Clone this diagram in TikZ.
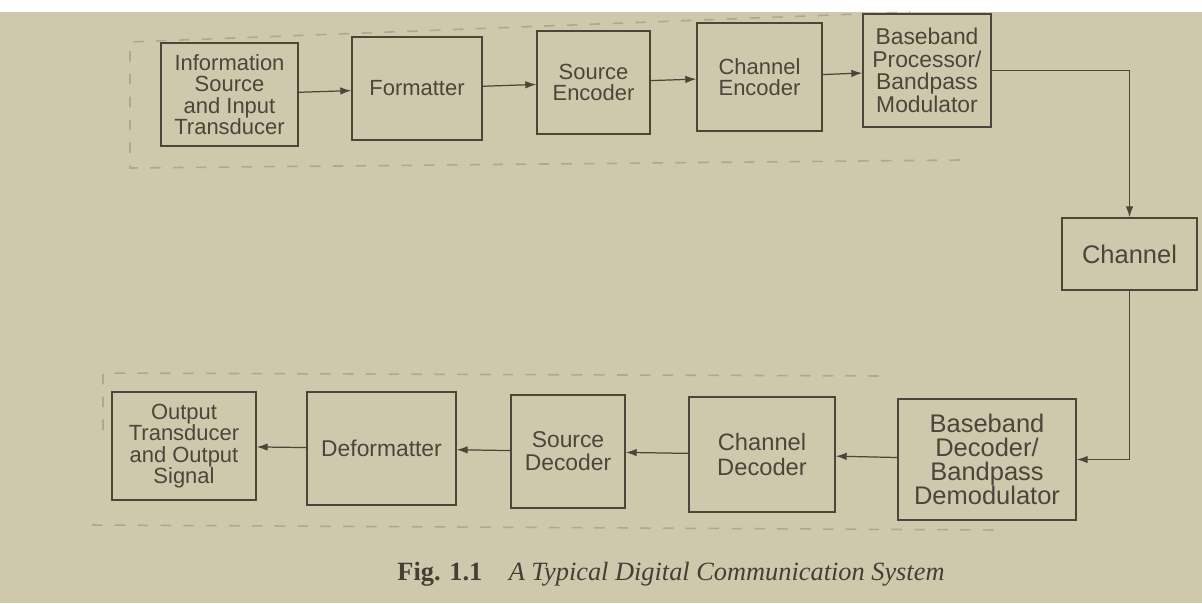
\documentclass[tikz,border=0pt]{standalone}
\usepackage{fontspec}
\setmainfont{Liberation Serif}
\setsansfont{Liberation Sans}
\usepackage{tikz}
\usetikzlibrary{arrows.meta,positioning}
\definecolor{paper}{RGB}{206,201,172}
\definecolor{ink}{RGB}{74,70,58}
\tikzset{
  box/.style={draw=ink, line width=0.8pt, align=center, inner sep=0pt, text=ink,
    font=\sffamily\fontsize{12.5}{12.2}\selectfont},
  bigbox/.style={box, font=\sffamily\fontsize{14.5}{13.8}\selectfont},
  line/.style={-{Latex[length=2.2mm,width=1.5mm]}, line width=0.7pt, draw=ink}
}

\begin{document}
\begin{tikzpicture}[x=0.02cm, y=-0.02cm,
    area/.style={dashed, dash pattern=on 6pt off 7pt, line width=0.9pt, draw=ink!25!paper},
    caption/.style={text=ink!90!black, font=\fontsize{15}{17}\selectfont}
  ]
    \path[use as bounding box] (0,0) rectangle (1202,603);
    \fill[white] (0,0) rectangle (1202,12);
    \fill[paper] (0,12) rectangle (1202,603);

    % transmitter / receiver outlines
    \draw[area] (960,160) -- (130,168) -- (130,42) -- (910,12);
    \draw[area] (103,430) -- (103,373) -- (885,376);
    \draw[area] (92,525) -- (1000,530);

    % transmitter
    \node[box, minimum width=2.74cm, minimum height=2.06cm] (src) at (229.5,94.5)
      {Information\\Source\\and Input\\Transducer};
    \node[box, minimum width=2.60cm, minimum height=2.06cm] (fmt) at (417,88.5) {Formatter};
    \node[box, minimum width=2.26cm, minimum height=2.06cm] (senc) at (593.5,82.5) {Source\\Encoder};
    \node[box, minimum width=2.50cm, minimum height=2.16cm] (cenc) at (759.5,77) {Channel\\Encoder};
    \node[box, font=\sffamily\fontsize{13}{12.8}\selectfont, minimum width=2.56cm, minimum height=2.26cm] (bbmod) at (927,70.5)
      {Baseband\\Processor/\\Bandpass\\Modulator};

    % channel
    \node[bigbox, minimum width=2.70cm, minimum height=1.44cm] (chan) at (1129.5,254) {Channel};

    % receiver
    \node[bigbox, minimum width=3.56cm, minimum height=2.42cm] (bbdem) at (987,459.5)
      {Baseband\\Decoder/\\Bandpass\\Demodulator};
    \node[box, font=\sffamily\fontsize{13.5}{13.8}\selectfont, minimum width=2.92cm, minimum height=2.30cm] (cdec) at (762,454.5) {Channel\\Decoder};
    \node[box, font=\sffamily\fontsize{13}{13.2}\selectfont, minimum width=2.28cm, minimum height=2.26cm] (sdec) at (568,451.5) {Source\\Decoder};
    \node[box, font=\sffamily\fontsize{13}{12}\selectfont, minimum width=2.98cm, minimum height=2.26cm] (defmt) at (381.5,448.5) {Deformatter};
    \node[box, minimum width=2.88cm, minimum height=2.16cm] (out) at (184,446)
      {Output\\Transducer\\and Output\\Signal};

    \draw[line] (src) -- (fmt);
    \draw[line] (fmt) -- (senc);
    \draw[line] (senc) -- (cenc);
    \draw[line] (cenc) -- (bbmod);
    \draw[line] (bbmod.east) -| (chan.north);
    \draw[line] (chan.south) |- (bbdem.east);
    \draw[line] (bbdem) -- (cdec);
    \draw[line] (cdec) -- (sdec);
    \draw[line] (sdec) -- (defmt);
    \draw[line] (defmt) -- (out);

    \node[caption] (cap) at (671,574) {\textbf{Fig. 1.1}\quad\textit{A Typical Digital Communication System}};
  \end{tikzpicture}
\end{document}
